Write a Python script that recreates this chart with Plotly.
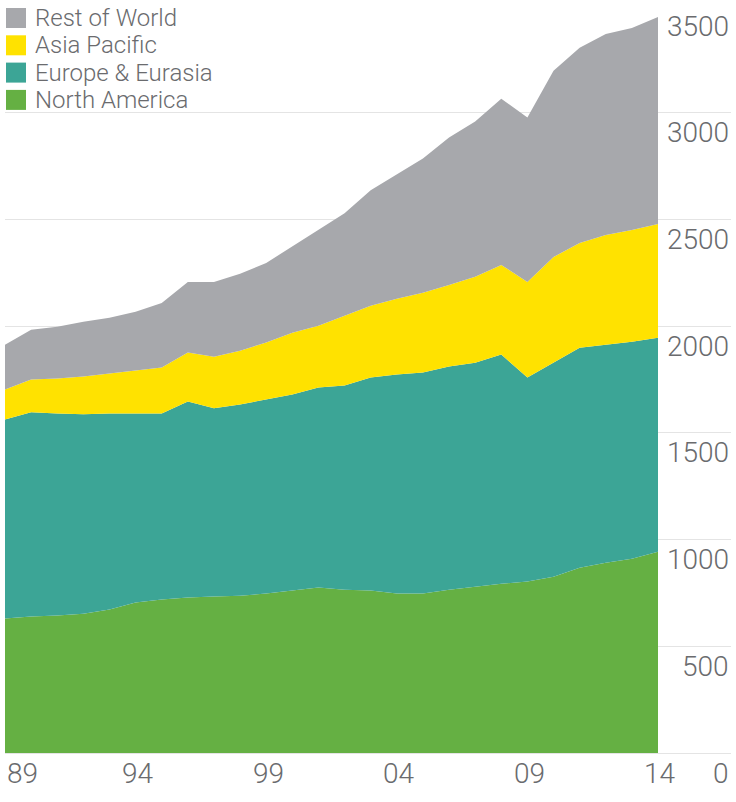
import plotly.graph_objects as go

years = list(range(1989, 2015))
north_america = [630, 639, 644, 653, 672, 705, 719, 728, 733, 737, 747, 761, 775, 765, 761,
                 747, 747, 765, 779, 793, 803, 826, 868, 891, 910, 943]
europe_eurasia = [933, 957, 947, 934, 919, 886, 872, 919, 882, 896, 910, 919, 938, 957, 998,
                  1026, 1036, 1046, 1050, 1074, 956, 1003, 1031, 1022, 1017, 1003]
asia_pacific = [140, 154, 164, 177, 187, 201, 215, 229, 242, 252, 266, 289, 289, 327, 336,
                355, 373, 382, 402, 420, 448, 495, 490, 514, 523, 532]
rest_of_world = [210, 233, 242, 257, 261, 275, 303, 331, 350, 360, 373, 406, 448, 480, 542,
                 583, 630, 691, 728, 779, 770, 873, 915, 942, 947, 971]

series_names = ["North America", "Europe & Eurasia", "Asia Pacific", "Rest of World"]
series_values = [north_america, europe_eurasia, asia_pacific, rest_of_world]
colors = ["#65b043", "#3ca596", "#ffe200", "#a7a8ac"]

y_tick_vals = [0, 500, 1000, 1500, 2000, 2500, 3000, 3500]
y_tick_text = ["0", "500", "1000", "1500", "2000", "2500", "3000", "3500"]
x_tick_vals = [1989, 1994, 1999, 2004, 2009, 2014]
x_tick_text = ["89", "94", "99", "04", "09", "14"]

W, H = 736, 802
ML, MR, MT, MB = 5, 5, 6, 49
plot_w = W - ML - MR
plot_h = H - MT - MB
px_per_year = 26.12
x_max = 1989 + plot_w / px_per_year

FONT = "Roboto"
TXT = "#6a6b6e"

fig = go.Figure()
for name, vals, col in zip(series_names, series_values, colors):
    fig.add_trace(go.Scatter(
        x=years, y=vals, name=name, mode="lines", stackgroup="one",
        line=dict(width=0, color=col), fillcolor=col, showlegend=False,
        hoverinfo="x+y+name"))

annotations = []
for v, t in zip(y_tick_vals, y_tick_text):
    annotations.append(dict(x=1, xref="paper", y=v, yref="y", text=t, showarrow=False,
                            xanchor="right", yanchor="middle", yshift=-20,
                            font=dict(family=FONT, size=28, color=TXT, weight=300)))
for i, (v, t) in enumerate(zip(x_tick_vals, x_tick_text)):
    annotations.append(dict(x=v, xref="x", y=0, yref="y", text=t, showarrow=False,
                            xanchor="left" if i == 0 else "center", yanchor="middle",
                            yshift=-20, xshift=0 if i == 0 else 2,
                            font=dict(family=FONT, size=28, color=TXT, weight=300)))

# custom legend (top-left), order top to bottom
shapes = []
legend_order = list(reversed(range(len(series_names))))
for row, idx in enumerate(legend_order):
    cy = 18 + row * 27.3
    x0p, x1p = 6, 26
    shapes.append(dict(type="rect", xref="paper", yref="paper",
                       x0=(x0p - ML) / plot_w, x1=(x1p - ML) / plot_w,
                       y0=(H - MB - (cy + 10)) / plot_h, y1=(H - MB - (cy - 10)) / plot_h,
                       fillcolor=colors[idx], line=dict(width=0), layer="above"))
    annotations.append(dict(x=(33 - ML) / plot_w, xref="paper",
                            y=(H - MB - cy) / plot_h, yref="paper",
                            text=series_names[idx], showarrow=False,
                            xanchor="left", yanchor="middle",
                            font=dict(family=FONT, size=24, color=TXT, weight=300)))

fig.update_layout(
    width=W, height=H, margin=dict(l=ML, r=MR, t=MT, b=MB, pad=0),
    paper_bgcolor="white", plot_bgcolor="white",
    showlegend=False,
    xaxis=dict(range=[1989, x_max], showgrid=False, zeroline=False, showticklabels=False,
               ticks="", showline=False, fixedrange=True),
    yaxis=dict(range=[0, 3500], tickvals=y_tick_vals, showticklabels=False, ticks="",
               showgrid=True, gridcolor="#e4e4e4", gridwidth=1,
               zeroline=True, zerolinecolor="#e4e4e4", zerolinewidth=1,
               showline=False, fixedrange=True),
    annotations=annotations, shapes=shapes,
)

fig.write_html("out.html")
